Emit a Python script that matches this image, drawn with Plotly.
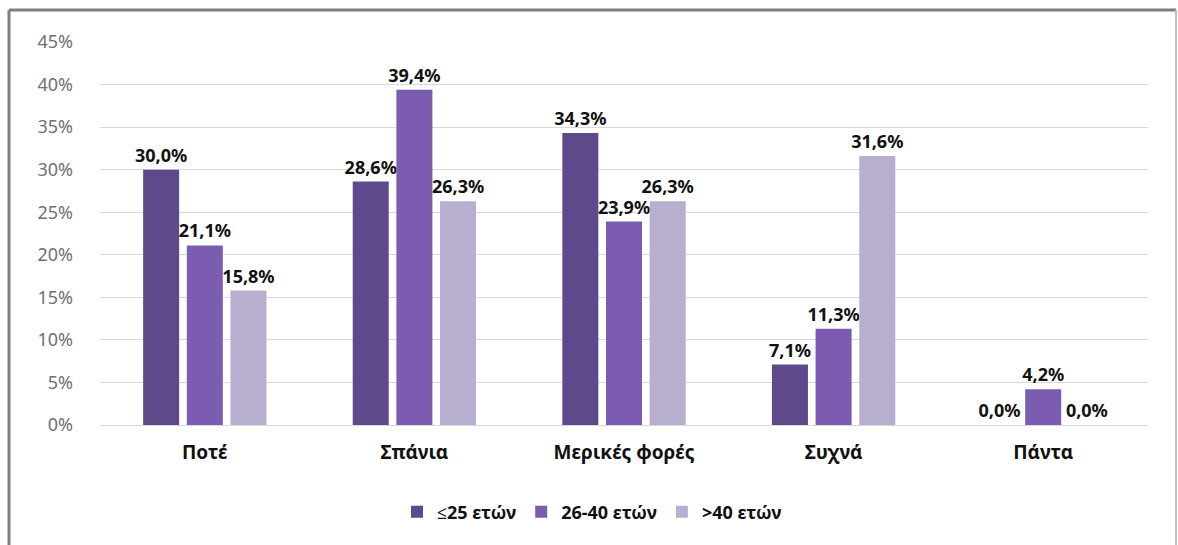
import plotly.graph_objects as go

categories = ["Ποτέ", "Σπάνια", "Μερικές φορές", "Συχνά", "Πάντα"]
series_names = ["≤25 ετών", "26-40 ετών", ">40 ετών"]
s_le25 = [30.0, 28.6, 34.3, 7.1, 0.0]
s_26_40 = [21.1, 39.4, 23.9, 11.3, 4.2]
s_gt40 = [15.8, 26.3, 26.3, 31.6, 0.0]
y_ticks = [0, 5, 10, 15, 20, 25, 30, 35, 40, 45]
y_tick_text = [f"{v}%" for v in y_ticks]

colors = ["#5e4a8a", "#7b5cb0", "#b7aed0"]
W, H = 1178, 545
L, R, T, B = 100, 30, 42, 120

fig = go.Figure()
for name, vals, col in zip(series_names, [s_le25, s_26_40, s_gt40], colors):
    fig.add_trace(go.Bar(
        x=categories, y=vals, name=name,
        marker=dict(color=col, line=dict(width=0)),
        texttemplate="%{y:.1f}%", textposition="outside",
        constraintext="none",
        textfont=dict(family="Noto Sans", size=18, color="#111111", weight="bold"),
        cliponaxis=False,
    ))

pw = W - L - R
ph = H - T - B
def px(x):
    return (x - L) / pw
def py(y):
    return (H - B - y) / ph

fig.update_layout(
    width=W, height=H,
    margin=dict(l=L, r=R, t=T, b=B),
    paper_bgcolor="white", plot_bgcolor="white",
    barmode="group", bargap=0.375, bargroupgap=0.175,
    separators=",.",
    font=dict(family="Noto Sans", color="#111111"),
    showlegend=True,
    legend=dict(
        orientation="h", x=px(592), xanchor="center", y=py(512), yanchor="middle",
        font=dict(family="Noto Sans", size=18, color="#111111", weight="bold"),
        itemwidth=30, tracegroupgap=0,
    ),
    xaxis=dict(
        type="category", showgrid=False, showline=False, zeroline=False,
        tickfont=dict(family="Noto Sans", size=19, color="#111111", weight="bold"),
        ticks="", ticklabelstandoff=14,
    ),
    yaxis=dict(
        range=[0, 45], tickvals=y_ticks, ticktext=y_tick_text,
        showgrid=True, gridcolor="#d9d9d9", gridwidth=1,
        zeroline=True, zerolinecolor="#d9d9d9", zerolinewidth=1,
        showline=False, ticks="",
        tickfont=dict(family="Noto Sans", size=18, color="#707070"),
        ticklabelstandoff=26,
    ),
    shapes=[
        dict(type="line", xref="paper", yref="paper",
             x0=px(9), x1=px(9), y0=py(560), y1=py(10),
             line=dict(color="#7f7f7f", width=3), layer="above"),
        dict(type="line", xref="paper", yref="paper",
             x0=px(9), x1=px(1176), y0=py(10), y1=py(10),
             line=dict(color="#7f7f7f", width=3), layer="above"),
        dict(type="line", xref="paper", yref="paper",
             x0=px(1176), x1=px(1176), y0=py(560), y1=py(10),
             line=dict(color="#bfbfbf", width=2), layer="above"),
    ],
)

fig.write_html("out.html")
